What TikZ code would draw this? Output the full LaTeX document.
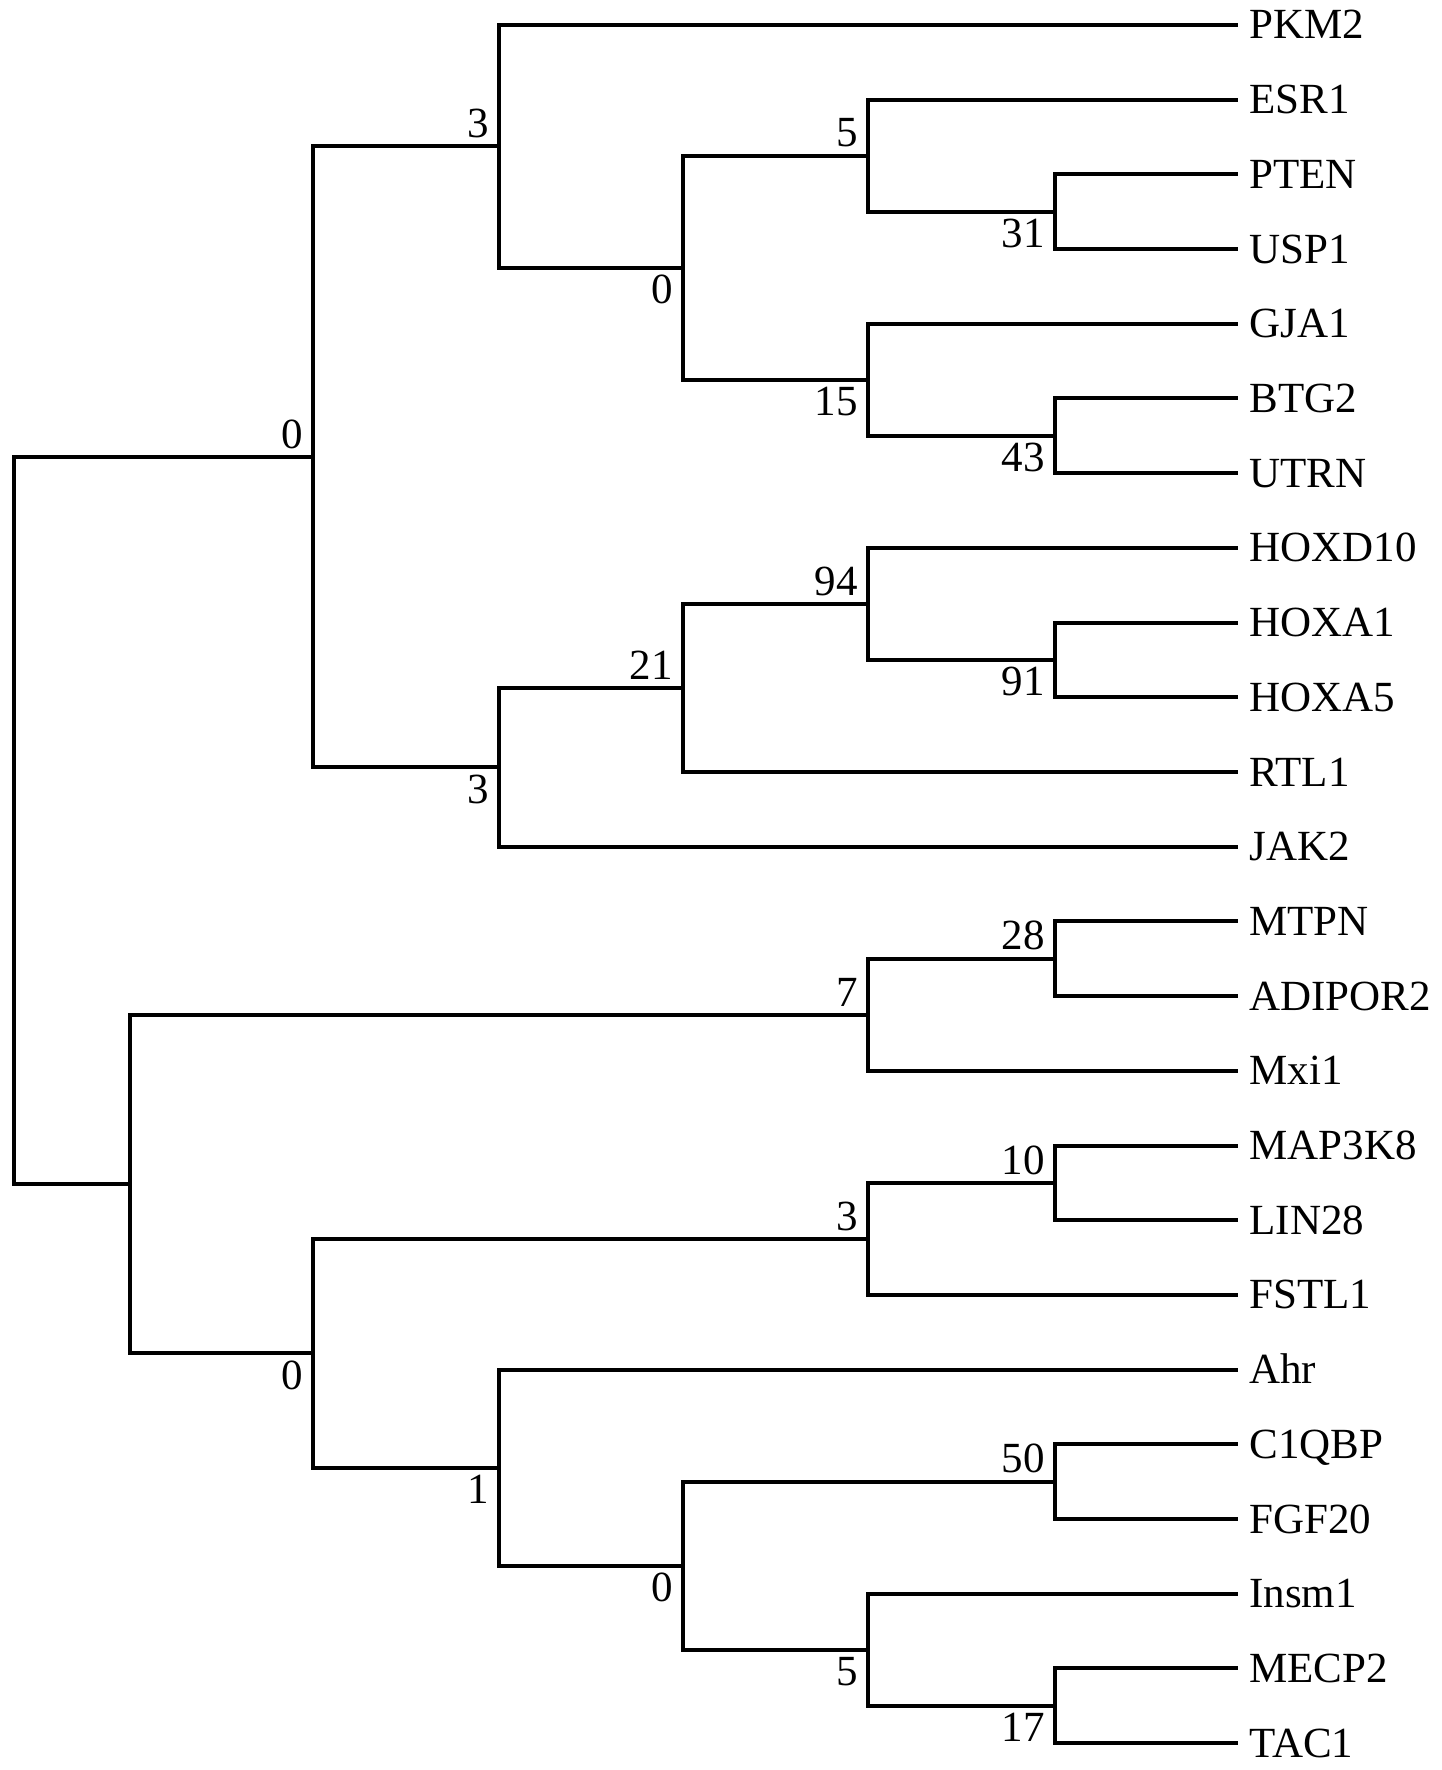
\documentclass[tikz,border=0pt]{standalone}
\usepackage{fontspec}
\setmainfont{Liberation Serif}
\begin{document}
\begin{tikzpicture}[x=0.5pt,y=-0.5pt,
  br/.style={line width=2pt, line join=miter},
  lab/.style={inner sep=0pt, font=\fontsize{21.5}{24}\selectfont},
  leaflab/.style={lab, anchor=base west},
  uplab/.style={lab, anchor=south east},
  dnlab/.style={lab, anchor=north east}]
\useasboundingbox (0,0) rectangle (1441,1770);
% leaves
\coordinate (PKM2) at (1238,25.0);
\coordinate (ESR1) at (1238,99.7);
\coordinate (PTEN) at (1238,174.4);
\coordinate (USP1) at (1238,249.1);
\coordinate (GJA1) at (1238,323.8);
\coordinate (BTG2) at (1238,398.5);
\coordinate (UTRN) at (1238,473.2);
\coordinate (HOXD10) at (1238,547.9);
\coordinate (HOXA1) at (1238,622.6);
\coordinate (HOXA5) at (1238,697.3);
\coordinate (RTL1) at (1238,772.0);
\coordinate (JAK2) at (1238,846.7);
\coordinate (MTPN) at (1238,921.4);
\coordinate (ADIPOR2) at (1238,996.1);
\coordinate (Mxi1) at (1238,1070.8);
\coordinate (MAP3K8) at (1238,1145.5);
\coordinate (LIN28) at (1238,1220.2);
\coordinate (FSTL1) at (1238,1294.9);
\coordinate (Ahr) at (1238,1369.6);
\coordinate (C1QBP) at (1238,1444.3);
\coordinate (FGF20) at (1238,1519.0);
\coordinate (Insm1) at (1238,1593.7);
\coordinate (MECP2) at (1238,1668.4);
\coordinate (TAC1) at (1238,1743.1);
\foreach \n in {PKM2,ESR1,PTEN,USP1,GJA1,BTG2,UTRN,HOXD10,HOXA1,HOXA5,RTL1,JAK2,MTPN,ADIPOR2,Mxi1,MAP3K8,LIN28,FSTL1,Ahr,C1QBP,FGF20,Insm1,MECP2,TAC1}
  \node[leaflab] (t\n) at ([xshift=5.5pt,yshift=-7pt]\n) {\n};
% internal nodes
\coordinate (n31) at (1055,211.75);
\coordinate (n5a) at (868,155.73);
\coordinate (n43) at (1055,435.85);
\coordinate (n15) at (868,379.83);
\coordinate (n0a) at (683,267.78);
\coordinate (n3a) at (499,146.39);
\coordinate (n91) at (1055,659.95);
\coordinate (n94) at (868,603.93);
\coordinate (n21) at (683,687.96);
\coordinate (n3b) at (499,767.33);
\coordinate (n0b) at (313,456.86);
\coordinate (n28) at (1055,958.75);
\coordinate (n7) at (868,1014.78);
\coordinate (n10) at (1055,1182.85);
\coordinate (n3c) at (868,1238.88);
\coordinate (n50) at (1055,1481.65);
\coordinate (n17) at (1055,1705.75);
\coordinate (n5b) at (868,1649.73);
\coordinate (n0c) at (683,1565.69);
\coordinate (n1) at (499,1467.65);
\coordinate (n0d) at (313,1353.27);
\coordinate (nB) at (130,1184.03);
\coordinate (root) at (14,820.44);
% branches
\foreach \p/\c in {n31/PTEN,n31/USP1,n5a/ESR1,n5a/n31,n43/BTG2,n43/UTRN,n15/GJA1,n15/n43,
  n0a/n5a,n0a/n15,n3a/PKM2,n3a/n0a,n91/HOXA1,n91/HOXA5,n94/HOXD10,n94/n91,n21/n94,n21/RTL1,
  n3b/n21,n3b/JAK2,n0b/n3a,n0b/n3b,n28/MTPN,n28/ADIPOR2,n7/n28,n7/Mxi1,n10/MAP3K8,n10/LIN28,
  n3c/n10,n3c/FSTL1,n50/C1QBP,n50/FGF20,n17/MECP2,n17/TAC1,n5b/Insm1,n5b/n17,n0c/n50,n0c/n5b,
  n1/Ahr,n1/n0c,n0d/n3c,n0d/n1,nB/n7,nB/n0d,root/n0b,root/nB}
  \draw[br] (\p) |- (\c);
% support values
\foreach \n/\v in {n0b/0,n3a/3,n5a/5,n21/21,n94/94,n7/7,n28/28,n3c/3,n10/10,n50/50}
  \node[uplab] (l\n) at ([xshift=-5pt,yshift=4pt]\n) {\v};
\foreach \n/\v in {n3b/3,n0a/0,n15/15,n31/31,n43/43,n91/91,n0d/0,n1/1,n0c/0,n5b/5,n17/17}
  \node[dnlab] (l\n) at ([xshift=-5pt,yshift=-3.5pt]\n) {\v};
\end{tikzpicture}
\end{document}
